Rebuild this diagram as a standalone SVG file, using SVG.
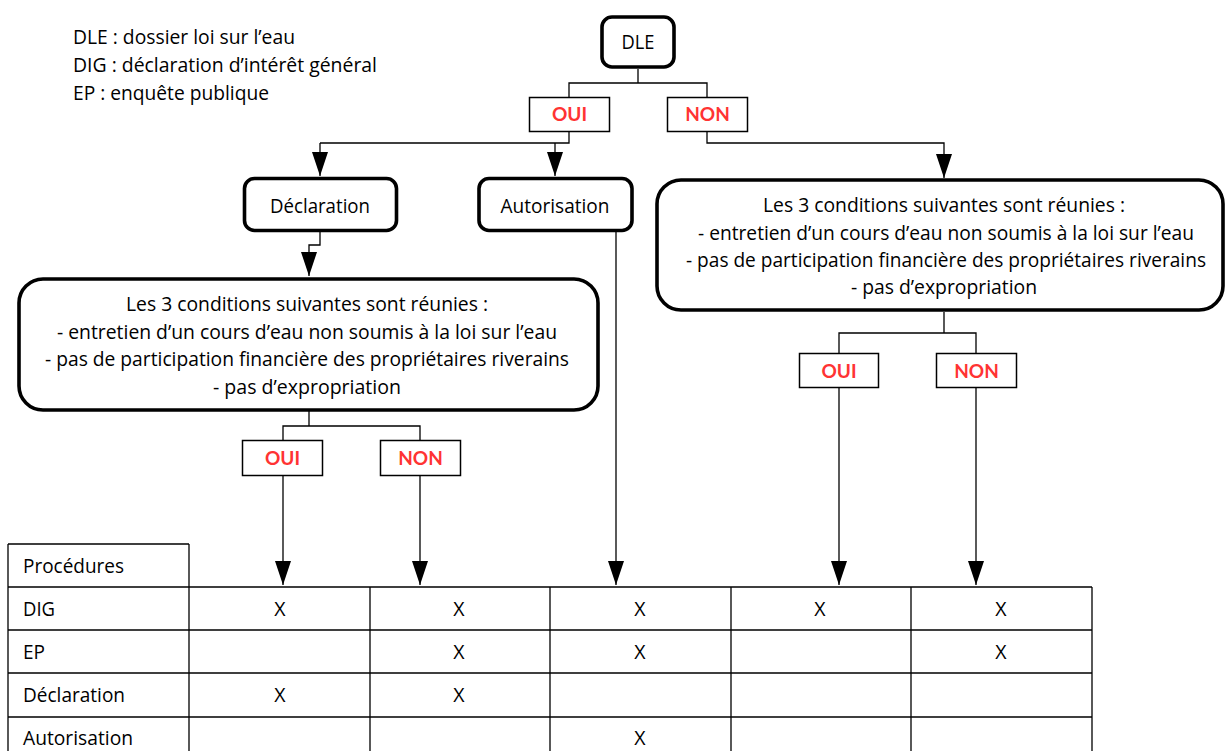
<svg xmlns="http://www.w3.org/2000/svg" width="1226" height="751" viewBox="0 0 1226 751">
<style>
  text { font-family: "Open Sans", "Noto Sans", "Liberation Sans", sans-serif; font-size: 19.5px; fill: #000; }
  .c { text-anchor: middle; }
  .yn { font-family: Lato, "Open Sans", "Liberation Sans", sans-serif; font-size: 19px; font-weight: bold; fill: #ff3333; text-anchor: middle; }
  .rbox { fill: #fff; stroke: #000; stroke-width: 3.6; }
  .sbox { fill: #fff; stroke: #000; stroke-width: 1.5; }
  .conn { fill: none; stroke: #000; stroke-width: 1.3; }
  .arr { marker-end: url(#ah); }
  .grid { fill: none; stroke: #000; stroke-width: 1.3; }
</style>
<defs>
  <marker id="ah" markerUnits="userSpaceOnUse" viewBox="0 0 24 16" refX="24" refY="8" markerWidth="24" markerHeight="16" orient="auto">
    <path d="M0,0 L24,8 L0,16 z" fill="#000"/>
  </marker>
</defs>
<rect width="1226" height="751" fill="#fff"/>

<g id="legend">
  <text x="73" y="44" textLength="222" lengthAdjust="spacingAndGlyphs">DLE : dossier loi sur l’eau</text>
  <text x="73" y="71.5" textLength="304" lengthAdjust="spacingAndGlyphs">DIG : déclaration d’intérêt général</text>
  <text x="73" y="100" textLength="196" lengthAdjust="spacingAndGlyphs">EP : enquête publique</text>
</g>

<g id="connectors">
  <path class="conn" d="M638,69 V83 H569 V97 M638,83 H707 V97"/>
  <path class="conn" d="M569,132 V143 H320"/>
  <path class="conn arr" d="M320,143 V176"/>
  <path class="conn arr" d="M555,143 V176"/>
  <path class="conn arr" d="M707,132 V143 H944 V178"/>
  <path class="conn arr" d="M320,232 V245 H309 V276"/>
  <path class="conn arr" d="M616,232 V585"/>
  <path class="conn" d="M309,411 V426 H283 V440 M309,426 H420 V440"/>
  <path class="conn arr" d="M283,476 V585"/>
  <path class="conn arr" d="M420,476 V585"/>
  <path class="conn" d="M944,312 V333 H839 V353 M944,333 H976 V353"/>
  <path class="conn arr" d="M839,388 V585"/>
  <path class="conn arr" d="M976,388 V585"/>
</g>

<g id="dle">
  <rect class="rbox" x="602" y="17" width="72" height="50" rx="10"/>
  <text class="c" x="638" y="49" style="font-size:20.5px" textLength="33" lengthAdjust="spacingAndGlyphs">DLE</text>
</g>

<g id="oui-1">
  <rect class="sbox" x="529.5" y="97.5" width="80" height="34"/>
  <text class="yn" x="569.5" y="121">OUI</text>
</g>
<g id="non-1">
  <rect class="sbox" x="667.5" y="97.5" width="80" height="34"/>
  <text class="yn" x="707.5" y="121">NON</text>
</g>

<g id="declaration">
  <rect class="rbox" x="244.5" y="178.5" width="152" height="52" rx="10"/>
  <text class="c" x="320" y="212.5" textLength="100" lengthAdjust="spacingAndGlyphs">Déclaration</text>
</g>
<g id="autorisation">
  <rect class="rbox" x="479" y="178.5" width="153" height="52" rx="10"/>
  <text class="c" x="555" y="212.5" textLength="109" lengthAdjust="spacingAndGlyphs">Autorisation</text>
</g>

<g id="conditions-left">
  <rect class="rbox" x="19" y="279" width="579" height="131" rx="24"/>
  <text class="c" x="307" y="311" textLength="362" lengthAdjust="spacingAndGlyphs">Les 3 conditions suivantes sont réunies :</text>
  <text class="c" x="307" y="338.5" textLength="500" lengthAdjust="spacingAndGlyphs">- entretien d’un cours d’eau non soumis à la loi sur l’eau</text>
  <text class="c" x="307" y="366" textLength="524" lengthAdjust="spacingAndGlyphs">- pas de participation financière des propriétaires riverains</text>
  <text class="c" x="307" y="393.5" textLength="188" lengthAdjust="spacingAndGlyphs">- pas d’expropriation</text>
</g>

<g id="conditions-right">
  <rect class="rbox" x="657" y="180" width="566" height="130" rx="24"/>
  <text class="c" x="944" y="212" textLength="362" lengthAdjust="spacingAndGlyphs">Les 3 conditions suivantes sont réunies :</text>
  <text class="c" x="946" y="240" textLength="496" lengthAdjust="spacingAndGlyphs">- entretien d’un cours d’eau non soumis à la loi sur l’eau</text>
  <text class="c" x="946" y="267" textLength="520" lengthAdjust="spacingAndGlyphs">- pas de participation financière des propriétaires riverains</text>
  <text class="c" x="944" y="294" textLength="186" lengthAdjust="spacingAndGlyphs">- pas d’expropriation</text>
</g>

<g id="oui-2">
  <rect class="sbox" x="242.5" y="440.5" width="80" height="35"/>
  <text class="yn" x="282.5" y="465">OUI</text>
</g>
<g id="non-2">
  <rect class="sbox" x="380.5" y="440.5" width="80" height="35"/>
  <text class="yn" x="420.5" y="465">NON</text>
</g>
<g id="oui-3">
  <rect class="sbox" x="799.5" y="353.5" width="79" height="34"/>
  <text class="yn" x="839" y="377.5">OUI</text>
</g>
<g id="non-3">
  <rect class="sbox" x="936.5" y="353.5" width="80" height="34"/>
  <text class="yn" x="976.5" y="377.5">NON</text>
</g>

<g id="table">
  <path class="grid" d="M8,544 H189 M8,587 H1092 M8,630 H1092 M8,673 H1092 M8,717 H1092 M8,760 H1092 M8,544 V760 M189,544 V760 M370,587 V760 M550,587 V760 M731,587 V760 M911,587 V760 M1092,587 V760"/>
  <text x="23" y="573" textLength="101" lengthAdjust="spacingAndGlyphs">Procédures</text>
  <text x="23" y="616" textLength="32" lengthAdjust="spacingAndGlyphs">DIG</text>
  <text x="23" y="659" textLength="22" lengthAdjust="spacingAndGlyphs">EP</text>
  <text x="23" y="702" textLength="102" lengthAdjust="spacingAndGlyphs">Déclaration</text>
  <text x="23" y="745" textLength="110" lengthAdjust="spacingAndGlyphs">Autorisation</text>
  <text class="c" x="280" y="616">X</text>
  <text class="c" x="459" y="616">X</text>
  <text class="c" x="640" y="616">X</text>
  <text class="c" x="820" y="616">X</text>
  <text class="c" x="1001" y="616">X</text>
  <text class="c" x="459" y="659">X</text>
  <text class="c" x="640" y="659">X</text>
  <text class="c" x="1001" y="659">X</text>
  <text class="c" x="280" y="702">X</text>
  <text class="c" x="459" y="702">X</text>
  <text class="c" x="640" y="745">X</text>
</g>
</svg>
